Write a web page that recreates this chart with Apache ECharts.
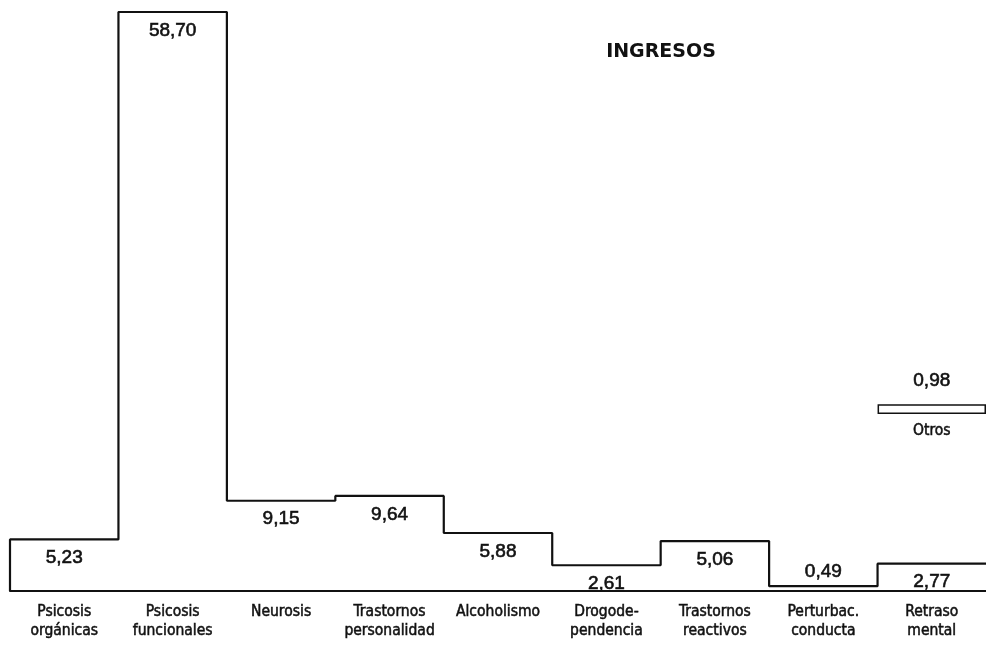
<!DOCTYPE html>
<html><head><meta charset="utf-8">
<script src="https://cdn.jsdelivr.net/npm/echarts@6/dist/echarts.min.js"></script>
<style>html,body{margin:0;padding:0;background:#fff}#c{width:986px;height:647px}</style>
</head><body><div id="c"></div>
<script>
const categories = ['Psicosis\norgánicas','Psicosis\nfuncionales','Neurosis','Trastornos\npersonalidad','Alcoholismo','Drogode-\npendencia','Trastornos\nreactivos','Perturbac.\nconducta','Retraso\nmental'];
const values = [5.23, 58.70, 9.15, 9.64, 5.88, 2.61, 5.06, 0.49, 2.77];
const otherCategory = ['Otros'];
const otherValues = [0.98];
const titleText = 'INGRESOS';

const fmt = v => v.toFixed(2).replace('.', ',');
const W = 986, H = 647;
const gTop = 12, gBottom = 56, gLeft = 10, gRight = 0;
const plotH = H - gTop - gBottom;
const yMax = Math.max(...values);
const pxPerUnit = plotH / yMax;
const binW = (W - gLeft - gRight) / categories.length;
const otherBottomY = 414;
const otherH = otherValues[0] * pxPerUnit;

const stepData = [[0, 0]].concat(values.map((v, i) => [i + 1, v]));
const valFont = {fontFamily: "'Liberation Sans', Arial, sans-serif", fontSize: 19, color: '#111', textBorderColor: '#111', textBorderWidth: 0.6};
const catFont = {fontFamily: "'DejaVu Sans Condensed','Liberation Sans Narrow',sans-serif", fontSize: 15.5, color: '#111', lineHeight: 19, textBorderColor: '#111', textBorderWidth: 0.5};

const chart = echarts.init(document.getElementById('c'), null, {renderer: 'canvas'});
chart.setOption({
  backgroundColor: '#fff',
  animation: false,
  title: {text: titleText, left: 656, top: 38, textAlign: 'center',
    textStyle: {fontFamily: "'DejaVu Sans', sans-serif", fontSize: 19, fontWeight: 'bold', color: '#111'}},
  grid: [
    {left: gLeft, right: gRight, top: gTop, bottom: gBottom},
    {left: gLeft + binW * (categories.length - 1), width: binW, top: otherBottomY - otherH, height: otherH}
  ],
  xAxis: [
    {type: 'category', gridIndex: 0, data: categories, boundaryGap: true,
     axisLine: {lineStyle: {color: '#111', width: 2.2}}, axisTick: {show: false},
     axisLabel: Object.assign({margin: 11, interval: 0}, catFont)},
    {type: 'value', gridIndex: 0, min: 0, max: categories.length, show: false},
    {type: 'category', gridIndex: 1, data: otherCategory, boundaryGap: true,
     axisLine: {show: false}, axisTick: {show: false},
     axisLabel: Object.assign({margin: 7}, catFont)}
  ],
  yAxis: [
    {type: 'value', gridIndex: 0, min: 0, max: yMax, show: false},
    {type: 'value', gridIndex: 1, min: 0, max: otherValues[0], show: false}
  ],
  series: [
    {type: 'bar', xAxisIndex: 0, yAxisIndex: 0, barWidth: '100%', silent: true,
     itemStyle: {color: 'rgba(0,0,0,0)'},
     data: values.map((v, i) => ({value: v, label: {show: true,
        position: v < 1 ? 'top' : 'insideTop', distance: v < 1 ? 5 : 9,
        formatter: () => fmt(v), ...valFont}}))},
    {type: 'line', xAxisIndex: 1, yAxisIndex: 0, step: 'start', symbol: 'none',
     lineStyle: {color: '#111', width: 2.2}, data: stepData},
    {type: 'bar', xAxisIndex: 2, yAxisIndex: 1, barWidth: '100%',
     itemStyle: {color: '#fff', borderColor: '#111', borderWidth: 1.5},
     label: {show: true, position: 'top', distance: 14, formatter: p => fmt(p.value), ...valFont},
     data: otherValues}
  ]
});
</script></body></html>
